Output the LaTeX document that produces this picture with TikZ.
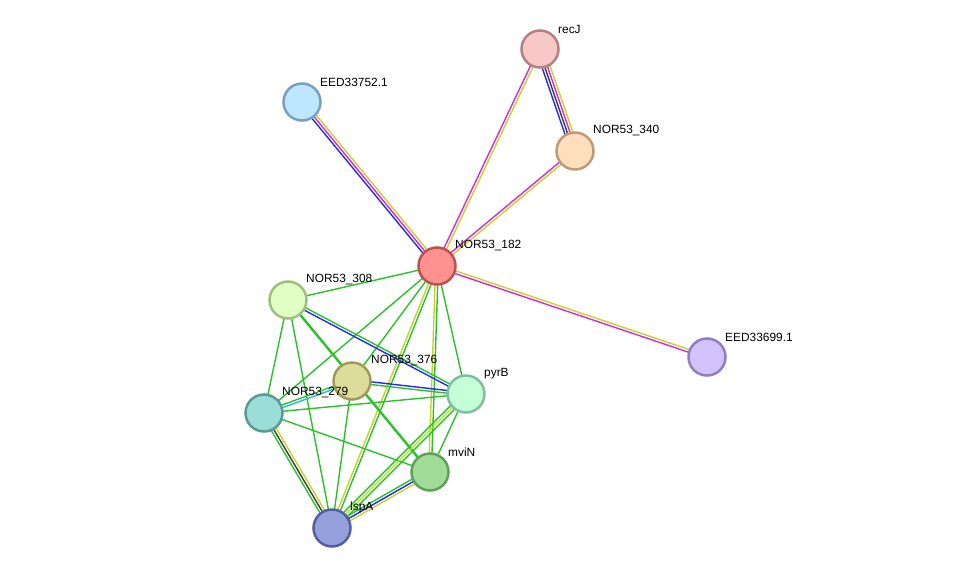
\documentclass[tikz,border=0pt]{standalone}
\usepackage{fontspec}
\setmainfont{Liberation Sans}
\usetikzlibrary{calc}
\definecolor{sgreen}{RGB}{40,195,40}
\definecolor{syellow}{RGB}{196,212,44}
\definecolor{smagenta}{RGB}{214,40,214}
\definecolor{sblue}{RGB}{40,40,240}
\definecolor{sblack}{RGB}{60,60,60}
\definecolor{scyan}{RGB}{40,180,230}
\tikzset{
 link/.style={line width=1.4pt},
 boldlink/.style={line width=2.4pt,draw=sgreen},
 prot/.style={circle,draw,line width=2.5pt,minimum size=37pt,inner sep=0},
 lbl/.style={anchor=west,inner sep=0,font=\fontsize{11.9}{14}\selectfont}
}
% #1 from, #2 to, #3 list of colours
\newcommand\linkab[3]{%
 \foreach \col [count=\i] in {#3} {\xdef\nlinks{\i}}%
 \foreach \col [count=\i] in {#3} {%
  \pgfmathsetmacro\off{(\i-(\nlinks+1)/2)*2.7}%
  \draw[link,draw=\col] ($(#1)!\off pt!90:(#2)$) -- ($(#2)!\off pt!-90:(#1)$);
 }%
}

\begin{document}
\begin{tikzpicture}[x=1pt,y=-1pt]
\path[use as bounding box] (0,0) rectangle (975,573);
\coordinate (rrecJ) at (540,49);
\coordinate (r340) at (575,151);
\coordinate (r752) at (302,102);
\coordinate (r182) at (437,266);
\coordinate (r308) at (288,300);
\coordinate (r376) at (352,381);
\coordinate (rpyrB) at (466,394);
\coordinate (r279) at (264,413);
\coordinate (rmviN) at (430,472);
\coordinate (rlspA) at (332,528);
\coordinate (r699) at (707,357);
% links
\linkab{r752}{r182}{sblue,smagenta,syellow}
\linkab{rrecJ}{r182}{smagenta,syellow}
\linkab{rrecJ}{r340}{sblue,sblack,smagenta,syellow}
\linkab{r340}{r182}{smagenta,syellow}
\linkab{r182}{r699}{smagenta,syellow}
\linkab{r182}{r308}{sgreen}
\linkab{r182}{r279}{sgreen}
\linkab{r182}{r376}{sgreen}
\linkab{r182}{rlspA}{syellow,sgreen}
\linkab{r182}{rmviN}{syellow,sgreen}
\linkab{r182}{rpyrB}{sgreen}
\linkab{r308}{rpyrB}{sblue,sgreen}
\draw[boldlink] (r308) -- (rmviN);
\linkab{r308}{r279}{sgreen}
\linkab{r308}{rlspA}{sgreen}
\linkab{r376}{rpyrB}{sgreen,sblue}
\linkab{r376}{rlspA}{sgreen}
\linkab{r279}{r376}{scyan,sgreen}
\linkab{r279}{rpyrB}{sgreen}
\linkab{r279}{rmviN}{sgreen}
\linkab{r279}{rlspA}{sgreen,sblack,syellow}
\linkab{rpyrB}{rlspA}{sgreen,syellow,sgreen}
\linkab{rpyrB}{rmviN}{sgreen}
\linkab{rmviN}{rlspA}{sgreen,sblue,syellow}
% proteins
\node[prot,fill={rgb,255:red,248;green,200;blue,200},draw={rgb,255:red,180;green,128;blue,128}] (recJ) at (rrecJ) {};
\node[prot,fill={rgb,255:red,255;green,222;blue,190},draw={rgb,255:red,190;green,155;blue,120}] (n340) at (r340) {};
\node[prot,fill={rgb,255:red,190;green,230;blue,255},draw={rgb,255:red,120;green,160;blue,192}] (n752) at (r752) {};
\node[prot,fill={rgb,255:red,255;green,145;blue,145},draw={rgb,255:red,190;green,80;blue,80}] (n182) at (r182) {};
\node[prot,fill={rgb,255:red,225;green,255;blue,195},draw={rgb,255:red,160;green,190;blue,130}] (n308) at (r308) {};
\node[prot,fill={rgb,255:red,222;green,220;blue,155},draw={rgb,255:red,160;green,155;blue,90}] (n376) at (r376) {};
\node[prot,fill={rgb,255:red,195;green,255;blue,215},draw={rgb,255:red,130;green,190;blue,155}] (pyrB) at (rpyrB) {};
\node[prot,fill={rgb,255:red,155;green,222;blue,215},draw={rgb,255:red,90;green,155;blue,150}] (n279) at (r279) {};
\node[prot,fill={rgb,255:red,160;green,220;blue,150},draw={rgb,255:red,95;green,160;blue,90}] (mviN) at (rmviN) {};
\node[prot,fill={rgb,255:red,150;green,160;blue,220},draw={rgb,255:red,85;green,95;blue,160}] (lspA) at (rlspA) {};
\node[prot,fill={rgb,255:red,210;green,195;blue,255},draw={rgb,255:red,145;green,125;blue,195}] (n699) at (r699) {};
% labels
\node[lbl] (trecJ) at ($(rrecJ)+(18,-20)$) {recJ};
\node[lbl] (t340) at ($(r340)+(18,-20)$) {NOR53\_340};
\node[lbl] (t752) at ($(r752)+(18,-20)$) {EED33752.1};
\node[lbl] (t182) at ($(r182)+(18,-20)$) {NOR53\_182};
\node[lbl] (t308) at ($(r308)+(18,-20)$) {NOR53\_308};
\node[lbl] (t376) at ($(r376)+(19,-20)$) {NOR53\_376};
\node[lbl] (tpyrB) at ($(rpyrB)+(18,-20)$) {pyrB};
\node[lbl] (t279) at ($(r279)+(18,-20)$) {NOR53\_279};
\node[lbl] (tmviN) at ($(rmviN)+(18,-20)$) {mviN};
\node[lbl] (tlspA) at ($(rlspA)+(18,-21)$) {lspA};
\node[lbl] (t699) at ($(r699)+(18,-20)$) {EED33699.1};
\end{tikzpicture}
\end{document}
